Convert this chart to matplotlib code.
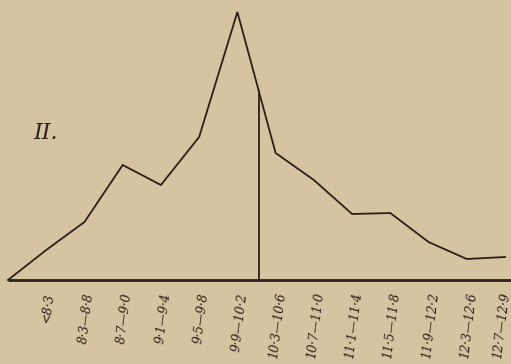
import numpy as np
import matplotlib
matplotlib.use("Agg")
import matplotlib.pyplot as plt

# ==================================================
# Data (arbitrary units above baseline)
# ==================================================
classes = [
    "<8·3", "8·3—8·8", "8·7—9·0", "9·1—9·4", "9·5—9·8", "9·9—10·2",
    "10·3—10·6", "10·7—11·0", "11·1—11·4", "11·5—11·8", "11·9—12·2",
    "12·3—12·6", "12·7—12·9",
]
counts = [30, 58, 115, 95, 143, 268, 127, 100, 66, 67, 38, 21, 23]
start_count = 0
mean_pos = 5.56  # position of the vertical (mean) line, in class units
panel_label = "II."

bg = "#d5c4a1"
ink = "#2b2017"


def main():
    fig = plt.figure(figsize=(5.11, 3.64), dpi=100, facecolor=bg)
    ax = fig.add_axes([0, 0, 1, 1], facecolor=bg)

    x = np.arange(len(classes))
    x_line = np.concatenate([[-1], x])
    y_line = np.concatenate([[start_count], counts])

    # curve
    ax.plot(x_line, y_line, color=ink, lw=1.3, solid_joinstyle="miter")

    # baseline
    ax.plot([-1, 12.16], [0, 0], color=ink, lw=2.0, solid_capstyle="butt")

    # mean line up to the curve
    mean_h = np.interp(mean_pos, x_line, y_line)
    ax.plot([mean_pos, mean_pos], [0, mean_h], color=ink, lw=1.3)

    # class labels under the baseline; the last one is pulled in a touch
    # so it stays inside the picture
    for i, (xi, lab) in enumerate(zip(x, classes)):
        dx = 0.05 if i < len(classes) - 1 else -0.08
        ax.text(xi + dx, -12, lab, rotation=83, ha="center", va="top",
                fontsize=8.8, style="italic", family="DejaVu Serif", color=ink)

    fig.text(33 / 511, 1 - 133 / 364, panel_label, fontsize=16,
             style="italic", family="DejaVu Serif", color=ink,
             ha="left", va="center")

    ax.set_xlim(-1.209, 12.157)
    ax.set_ylim(-84, 280)
    ax.axis("off")

    fig.savefig("out.png", dpi=100, facecolor=bg)


if __name__ == "__main__":
    main()
